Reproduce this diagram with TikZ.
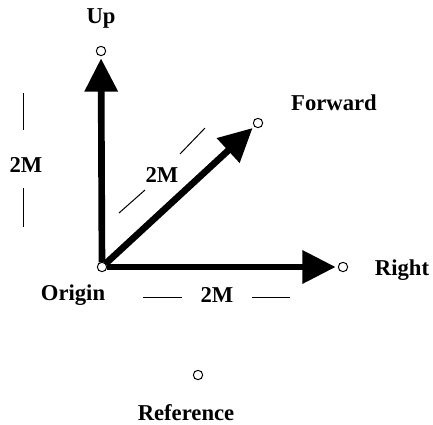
\documentclass[tikz,border=0pt]{standalone}
\usepackage{fontspec}
\setmainfont{Liberation Serif}
\usetikzlibrary{arrows.meta, positioning}
\tikzset{
  ptnode/.style={circle, draw, fill=white, minimum size=7pt, inner sep=0pt,
    outer sep=2pt, line width=0.75pt},
  axis/.style={-{Triangle[length=25pt, width=24pt]}, line width=5pt,
    shorten <=-2pt},
  lbl/.style={font=\bfseries\fontsize{17}{20}\selectfont, inner sep=0pt},
  dimline/.style={line width=0.75pt}
}
\begin{document}
\begin{tikzpicture}[x=0.75pt, y=-0.75pt]
  \useasboundingbox (0,0) rectangle (433,425);

  % Points
  \node[ptnode] (origin) at (102,267) {};
  \node[ptnode] (up) at (101,51) {};
  \node[ptnode] (right) at (343,267) {};
  \node[ptnode] (fwd) at (258,123) {};
  \node[ptnode] (ref) at (198,375) {};

  % Axes
  \draw[axis] (origin) -- (up);
  \draw[axis] (origin) -- (right);
  \draw[axis] (origin) -- (fwd);

  % Names
  \node[lbl] (uplbl) at (101,18) {Up};
  \node[lbl] (fwdlbl) at (334,103) {Forward};
  \node[lbl] (rightlbl) at (402,270) {Right};
  \node[lbl] (originlbl) at (73,295) {Origin};
  \node[lbl] (reflbl) at (186,413) {Reference};

  % Lengths
  \node[lbl] (dimup) at (26,165) {2M};
  \draw[dimline] (23,93) -- (23,130);
  \draw[dimline] (23,188) -- (23,227);

  \node[lbl] (dimright) at (217,295) {2M};
  \draw[dimline] (143,297) -- (182,297);
  \draw[dimline] (252,297) -- (290,297);

  \node[lbl] (dimfwd) at (162,175) {2M};
  \draw[dimline] (119,213) -- (145,190);
  \draw[dimline] (180,154) -- (205,128);
\end{tikzpicture}
\end{document}
